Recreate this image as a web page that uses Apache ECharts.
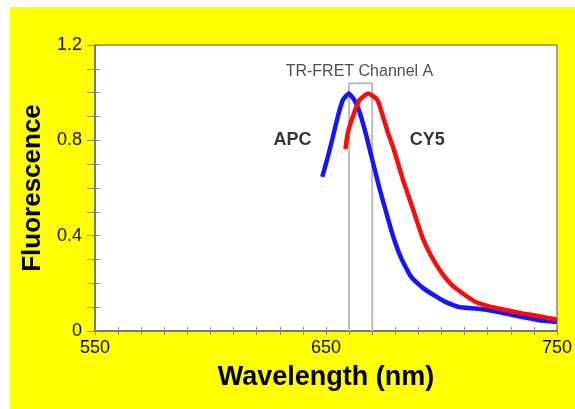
<!DOCTYPE html>
<html>
<head>
<meta charset="utf-8">
<script src="https://cdn.jsdelivr.net/npm/echarts@6/dist/echarts.min.js"></script>
<style>
html,body{margin:0;padding:0;background:#ffffff;}
#bg{position:absolute;left:10px;top:7px;width:565px;height:402px;background:#ffff00;}
#chart{position:absolute;left:0;top:0;width:575px;height:409px;}
</style>
</head>
<body>
<div id="bg"></div>
<div id="chart"></div>
<script>
// APC emission (wavelength nm, relative fluorescence)
const apcWavelength = [648.4,650.8,652.9,655.1,657.3,659.9,662.3,664.5,667.4,670.2,673.1,676.0,678.9,682.5,686.8,691.8,697.6,701.9,707.7,714.9,720.6,727.8,735.0,742.2,749.9];
const apcValues     = [0.647,0.731,0.811,0.899,0.969,0.997,0.969,0.920,0.822,0.712,0.601,0.500,0.402,0.307,0.228,0.182,0.145,0.121,0.101,0.094,0.087,0.073,0.059,0.045,0.038];
// CY5 emission
const cy5Wavelength = [658.4,659.4,661.6,664.5,668.3,672.2,674.5,676.7,678.9,681.0,683.2,686.1,689.0,691.8,695.4,699.8,704.8,710.6,714.9,720.6,727.8,735.0,742.2,749.9];
const cy5Values     = [0.763,0.829,0.899,0.969,0.997,0.970,0.906,0.836,0.775,0.710,0.638,0.556,0.472,0.392,0.318,0.248,0.190,0.148,0.122,0.103,0.088,0.074,0.062,0.048];
// TR-FRET Channel A window
const channelLow = 660, channelHigh = 670, channelTop = 1.04;
// annotations [wavelength, value, text]
const annotations = [
  [664.5, 1.09, 'TR-FRET Channel A'],
  [635.5, 0.80, 'APC'],
  [693.8, 0.80, 'CY5']
];
const xLabels = [550, 650, 750];
const yLabels = [0, 0.4, 0.8, 1.2];

const zip = (a, b) => a.map((v, i) => [v, b[i]]);
const font = 'Liberation Sans, Arial, Helvetica, sans-serif';

const chart = echarts.init(document.getElementById('chart'));
chart.setOption({
  animation: false,
  grid: {left: 95, top: 45, width: 463, height: 286, show: true, backgroundColor: '#ffffff', borderColor: '#555555', borderWidth: 1},
  xAxis: [{
    type: 'value', min: 550, max: 750, interval: 10,
    axisLine: {show: true, onZero: false, lineStyle: {color: '#777777', width: 2}},
    axisTick: {show: true, length: 4, lineStyle: {color: '#888888', width: 1}},
    axisLabel: {margin: 8, color: '#111111', fontSize: 18, fontFamily: font,
      formatter: v => xLabels.includes(Math.round(v)) ? String(Math.round(v)) : ''},
    splitLine: {show: false},
    name: 'Wavelength (nm)', nameLocation: 'middle', nameGap: 33,
    nameTextStyle: {fontSize: 27, fontWeight: 'bold', color: '#000000', fontFamily: font}
  }, {
    type: 'value', min: 550, max: 750, interval: 10, position: 'bottom', offset: 0,
    axisLine: {show: false}, axisLabel: {show: false}, splitLine: {show: false},
    axisTick: {show: true, inside: true, length: 4, lineStyle: {color: '#888888', width: 1}}
  }],
  yAxis: [{
    type: 'value', min: 0, max: 1.2, interval: 0.1,
    axisLine: {show: true, onZero: false, lineStyle: {color: '#777777', width: 2}},
    axisTick: {show: true, length: 8, lineStyle: {color: '#888888', width: 1}},
    axisLabel: {margin: 13, color: '#111111', fontSize: 18, fontFamily: font,
      formatter: v => {
        const r = Math.round(v * 10) / 10;
        const hit = yLabels.find(l => Math.abs(l - r) < 1e-6);
        return hit === undefined ? '' : (hit === 0 ? '0' : hit.toFixed(1));
      }},
    splitLine: {show: false},
    name: 'Fluorescence', nameLocation: 'middle', nameGap: 45, nameRotate: 90,
    nameTextStyle: {fontSize: 26, fontWeight: 'bold', color: '#000000', fontFamily: font}
  }, {
    type: 'value', min: 0, max: 1.2, interval: 0.1, position: 'left', offset: 0,
    axisLine: {show: false}, axisLabel: {show: false}, splitLine: {show: false},
    axisTick: {show: true, inside: true, length: 5, lineStyle: {color: '#888888', width: 1}}
  }],
  series: [{
    name: 'Channel A', type: 'line', z: 1, symbol: 'none',
    data: [[channelLow, 0], [channelLow, channelTop], [channelHigh, channelTop], [channelHigh, 0]],
    lineStyle: {color: '#bbbbbb', width: 2}
  }, {
    name: 'APC', type: 'line', z: 3, symbol: 'none', smooth: 0.15,
    data: zip(apcWavelength, apcValues),
    lineStyle: {color: '#1414ff', width: 4.5}
  }, {
    name: 'CY5', type: 'line', z: 4, symbol: 'none', smooth: 0.15,
    data: zip(cy5Wavelength, cy5Values),
    lineStyle: {color: '#ff0a0a', width: 4.5}
  }, {
    name: 'labels', type: 'scatter', z: 5, symbolSize: 1,
    itemStyle: {color: 'rgba(0,0,0,0)'},
    data: annotations.map(a => ({value: [a[0], a[1]], name: a[2],
      label: a[2].length > 5
        ? {fontSize: 16, fontWeight: 'normal', color: '#222222'}
        : {fontSize: 18, fontWeight: 'bold', color: '#000000'}})),
    label: {show: true, position: 'inside', formatter: p => p.name, fontFamily: font}
  }]
});
</script>
</body>
</html>
